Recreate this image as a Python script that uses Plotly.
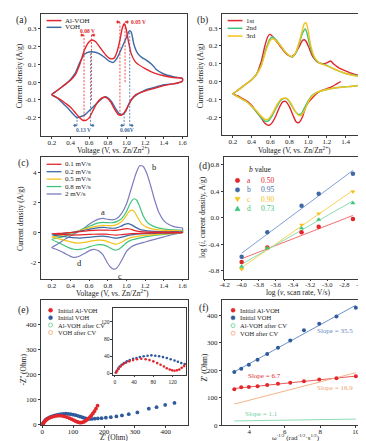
import numpy as np
import plotly.graph_objects as go

W, H = 366, 441
FONT = "Liberation Serif"

# ---------------- (a) Al-VOH vs VOH CV ----------------
a_alvoh_v = [0.20,0.25,0.30,0.35,0.40,0.45,0.50,0.55,0.60,0.63,0.67,0.72,0.78,0.83,0.87,0.90,0.93,0.955,0.975,0.995,1.02,1.05,1.10,1.20,1.30,1.40,1.50,1.60,
             1.60,1.55,1.50,1.40,1.30,1.20,1.10,1.05,1.00,0.97,0.94,0.91,0.87,0.83,0.79,0.76,0.72,0.68,0.64,0.60,0.57,0.54,0.50,0.45,0.40,0.35,0.30,0.25,0.20]
a_alvoh_i = [-0.07,-0.05,-0.03,-0.01,0.01,0.04,0.10,0.18,0.225,0.235,0.225,0.19,0.15,0.13,0.135,0.17,0.235,0.30,0.325,0.30,0.23,0.16,0.11,0.075,0.05,0.035,0.025,0.02,
             0.005,-0.005,-0.01,-0.02,-0.035,-0.05,-0.07,-0.10,-0.15,-0.175,-0.185,-0.18,-0.15,-0.11,-0.088,-0.085,-0.095,-0.12,-0.16,-0.20,-0.212,-0.215,-0.20,-0.17,-0.14,-0.12,-0.10,-0.085,-0.07]
a_voh_v = [0.20,0.25,0.30,0.35,0.40,0.45,0.50,0.55,0.60,0.65,0.70,0.76,0.82,0.86,0.90,0.95,1.00,1.03,1.05,1.08,1.12,1.17,1.22,1.27,1.32,1.40,1.50,1.60,
           1.60,1.55,1.50,1.40,1.30,1.20,1.10,1.05,1.02,0.99,0.96,0.92,0.88,0.84,0.80,0.77,0.73,0.68,0.62,0.56,0.50,0.47,0.43,0.38,0.32,0.26,0.20]
a_voh_i = [-0.07,-0.05,-0.03,-0.01,0.015,0.05,0.11,0.155,0.168,0.168,0.16,0.14,0.115,0.11,0.135,0.19,0.25,0.285,0.28,0.21,0.16,0.135,0.12,0.10,0.07,0.045,0.03,0.02,
           0.005,-0.005,-0.01,-0.015,-0.03,-0.045,-0.075,-0.10,-0.13,-0.165,-0.18,-0.175,-0.145,-0.11,-0.088,-0.082,-0.095,-0.12,-0.15,-0.18,-0.195,-0.20,-0.18,-0.15,-0.12,-0.09,-0.07]

# ---------------- (b) first three cycles ----------------
b_cyc1_v = [1.35,1.30,1.25,1.20,1.15,1.10,1.05,1.00,0.97,0.94,0.91,0.89,0.87,0.84,0.80,0.76,0.73,0.70,0.66,0.62,0.59,0.57,0.54,0.50,0.45,0.40,0.35,0.30,0.25,0.20,
            0.25,0.30,0.35,0.40,0.45,0.50,0.54,0.57,0.59,0.61,0.65,0.70,0.76,0.82,0.86,0.90,0.94,0.96,0.98,1.01,1.05,1.10,1.15,1.20,1.24,1.27,1.32,1.40,1.50,1.60]
b_cyc1_i = [0.0,-0.015,-0.03,-0.04,-0.05,-0.065,-0.09,-0.12,-0.15,-0.20,-0.228,-0.232,-0.225,-0.19,-0.14,-0.112,-0.115,-0.14,-0.19,-0.23,-0.245,-0.245,-0.235,-0.205,-0.17,-0.135,-0.11,-0.095,-0.08,-0.07,
            -0.05,-0.03,-0.01,0.01,0.04,0.11,0.20,0.25,0.265,0.26,0.235,0.20,0.16,0.14,0.155,0.19,0.23,0.235,0.225,0.19,0.14,0.11,0.10,0.105,0.115,0.10,0.08,0.06,0.04,0.025]
b_cyc2_v = [0.20,0.25,0.30,0.35,0.40,0.45,0.50,0.55,0.59,0.62,0.66,0.71,0.76,0.83,0.87,0.91,0.94,0.97,0.99,1.02,1.06,1.10,1.15,1.20,1.30,1.40,1.50,1.60,
            1.60,1.55,1.50,1.40,1.30,1.20,1.10,1.04,1.00,0.96,0.93,0.90,0.86,0.82,0.78,0.75,0.71,0.67,0.62,0.58,0.55,0.51,0.45,0.40,0.35,0.30,0.25,0.20]
b_cyc2_i = [-0.07,-0.05,-0.03,-0.01,0.01,0.04,0.09,0.18,0.235,0.25,0.235,0.20,0.165,0.138,0.16,0.22,0.27,0.295,0.27,0.20,0.14,0.11,0.10,0.09,0.065,0.045,0.035,0.025,
            -0.005,-0.02,-0.025,-0.03,-0.035,-0.045,-0.06,-0.08,-0.11,-0.15,-0.18,-0.185,-0.165,-0.13,-0.10,-0.095,-0.105,-0.14,-0.19,-0.22,-0.225,-0.21,-0.17,-0.14,-0.115,-0.10,-0.085,-0.07]
b_cyc3_v = [0.20,0.25,0.30,0.35,0.40,0.45,0.50,0.55,0.59,0.62,0.66,0.71,0.76,0.83,0.87,0.91,0.94,0.96,0.98,1.00,1.03,1.07,1.11,1.16,1.22,1.30,1.40,1.50,1.60,
            1.60,1.55,1.50,1.40,1.30,1.20,1.10,1.03,0.99,0.96,0.93,0.90,0.86,0.82,0.78,0.75,0.71,0.67,0.62,0.58,0.55,0.51,0.45,0.40,0.35,0.30,0.25,0.20]
b_cyc3_i = [-0.07,-0.05,-0.03,-0.01,0.01,0.04,0.085,0.17,0.225,0.24,0.23,0.20,0.165,0.14,0.165,0.23,0.29,0.325,0.33,0.29,0.20,0.135,0.11,0.095,0.085,0.065,0.045,0.032,0.025,
            -0.01,-0.02,-0.025,-0.03,-0.035,-0.045,-0.06,-0.09,-0.13,-0.165,-0.19,-0.19,-0.165,-0.125,-0.097,-0.093,-0.10,-0.13,-0.18,-0.21,-0.215,-0.20,-0.165,-0.14,-0.115,-0.10,-0.085,-0.07]
b_labels = ["1st", "2nd", "3rd"]

# ---------------- (c) scan rates ----------------
c_labels = ["0.1 mV/s", "0.2 mV/s", "0.5 mV/s", "0.8 mV/s", "2 mV/s"]
c_v01 = [0.20,0.30,0.40,0.50,0.60,0.70,0.80,0.88,0.95,1.00,1.04,1.08,1.15,1.25,1.40,1.60,
         1.60,1.40,1.20,1.05,1.00,0.94,0.89,0.84,0.78,0.70,0.60,0.50,0.42,0.30,0.20]
c_i01 = [-0.08,-0.04,0.01,0.07,0.13,0.17,0.16,0.15,0.22,0.27,0.24,0.15,0.07,0.04,0.03,0.02,
         0.0,-0.01,-0.03,-0.07,-0.10,-0.14,-0.16,-0.14,-0.10,-0.10,-0.12,-0.15,-0.16,-0.12,-0.08]
c_v02 = [0.20,0.30,0.40,0.50,0.60,0.70,0.76,0.82,0.88,0.94,0.98,1.02,1.06,1.10,1.15,1.22,1.30,1.45,1.60,
         1.60,1.40,1.20,1.05,1.00,0.94,0.90,0.86,0.80,0.74,0.66,0.58,0.50,0.42,0.30,0.20]
c_i02 = [-0.15,-0.08,0.0,0.10,0.22,0.33,0.35,0.30,0.30,0.42,0.55,0.60,0.50,0.35,0.20,0.12,0.08,0.06,0.05,
         0.0,-0.03,-0.07,-0.15,-0.22,-0.32,-0.37,-0.35,-0.27,-0.23,-0.26,-0.32,-0.36,-0.33,-0.24,-0.15]
c_v05 = [0.20,0.30,0.40,0.50,0.60,0.70,0.75,0.80,0.85,0.90,0.95,1.00,1.03,1.06,1.09,1.12,1.16,1.22,1.30,1.40,1.60,
         1.60,1.40,1.20,1.05,1.00,0.95,0.91,0.87,0.82,0.76,0.70,0.63,0.55,0.47,0.40,0.30,0.20]
c_i05 = [-0.30,-0.18,-0.04,0.14,0.32,0.45,0.48,0.47,0.47,0.55,0.75,1.15,1.42,1.50,1.35,1.00,0.60,0.35,0.22,0.15,0.10,
         0.0,-0.08,-0.18,-0.32,-0.45,-0.62,-0.74,-0.75,-0.65,-0.52,-0.50,-0.55,-0.65,-0.70,-0.62,-0.45,-0.30]
c_v08 = [0.20,0.30,0.40,0.50,0.60,0.65,0.70,0.75,0.80,0.85,0.90,0.95,1.00,1.04,1.08,1.11,1.14,1.18,1.22,1.28,1.35,1.45,1.60,
         1.60,1.45,1.30,1.15,1.05,1.00,0.95,0.91,0.87,0.82,0.77,0.72,0.67,0.60,0.52,0.45,0.38,0.30,0.20]
c_i08 = [-0.45,-0.30,-0.10,0.15,0.42,0.55,0.65,0.68,0.66,0.66,0.75,0.95,1.40,1.95,2.25,2.15,1.75,1.10,0.70,0.45,0.30,0.20,0.15,
         0.0,-0.08,-0.18,-0.35,-0.50,-0.68,-0.95,-1.12,-1.15,-1.00,-0.85,-0.80,-0.82,-0.95,-1.10,-1.12,-1.00,-0.75,-0.45]
c_v2 = [0.20,0.25,0.30,0.35,0.40,0.45,0.50,0.55,0.60,0.65,0.70,0.75,0.80,0.85,0.90,0.95,1.00,1.05,1.10,1.14,1.18,1.22,1.26,1.30,1.35,1.40,1.45,1.50,1.55,1.60,
        1.60,1.55,1.50,1.45,1.40,1.30,1.20,1.10,1.05,1.00,0.96,0.92,0.89,0.86,0.83,0.79,0.75,0.70,0.66,0.62,0.58,0.54,0.50,0.46,0.43,0.40,0.35,0.30,0.25,0.20]
c_i2 = [-1.0,-0.8,-0.6,-0.4,-0.22,-0.05,0.12,0.32,0.55,0.75,0.90,0.95,0.88,0.85,0.95,1.30,1.90,2.90,3.90,4.45,4.40,3.90,3.10,2.20,1.30,0.80,0.55,0.42,0.35,0.30,
        0.05,-0.05,-0.12,-0.20,-0.28,-0.45,-0.62,-0.80,-0.95,-1.25,-1.70,-2.15,-2.38,-2.42,-2.30,-1.95,-1.50,-1.20,-1.12,-1.15,-1.28,-1.42,-1.55,-1.63,-1.65,-1.58,-1.42,-1.25,-1.12,-1.0]
c_peak_names = ["a", "b", "c", "d"]
c_peak_v = [0.75, 1.29, 0.93, 0.50]
c_peak_i = [1.38, 4.37, -2.85, -2.03]

# ---------------- (d) log i vs log v ----------------
d_logv = [-4.0, -3.7, -3.3, -3.1, -2.7]
d_peak_a = [-0.67, -0.45, -0.22, -0.14, -0.02]
d_peak_b = [-0.59, -0.22, 0.18, 0.36, 0.66]
d_peak_c = [-0.78, -0.47, -0.11, 0.06, 0.39]
d_peak_d = [-0.74, -0.46, -0.16, -0.03, 0.22]
d_names = ["a", "b", "c", "d"]
d_bvalues = ["0.50", "0.95", "0.90", "0.73"]

# ---------------- (e) Nyquist ----------------
e_alvoh_x = [3,5,8,12,17,23,30,38,46,55,64,72,80,88,95,102,108,114,119,124,129,134,139,144,149,154,159,164,169,174,179]
e_alvoh_y = [2,6,11,16,21,25,28,31,33,34,33,31,28,24,20,16,12,9,7,6,7,9,13,17,22,28,35,43,52,62,74]
e_voh_x = [2,4,7,10,14,19,25,31,38,45,52,60,68,76,84,92,100,108,116,124,131,138,145,152,160,170,180,192,206,222,240,258,280,308,345,370,398,428]
e_voh_y = [2,6,11,16,20,24,28,31,34,36,38,40,41,42,41,40,38,36,33,30,27,24,22,21,21,22,23,24,26,28,31,35,40,47,62,68,77,85]
e_alcv_x = [1,2,3,4.5,6,8,10,12,14,16,18,19.5,21,22,23,24,25]
e_alcv_y = [0.5,1.5,2.5,3.5,4.5,5.5,6.2,6.8,7.5,8.5,10,12.5,16,20,25,30,36]
e_vohcv_x = [2,4,7,10,14,18,23,28,34,40,46,52,58,64,71,78,86,95,105,116,128,141,156,173,192,213,236,262]
e_vohcv_y = [1,3,6,9,12,15,18,20,23,26,29,34,40,46,53,61,70,80,91,103,116,130,147,166,187,210,236,265]
e_labels = ["Initial Al-VOH", "Initial VOH", "Al-VOH after CV", "VOH after CV"]

# ---------------- (f) Z' vs w^-1/2 ----------------
f_w = [3.16, 3.55, 3.98, 4.47, 5.01, 5.62, 6.31, 7.08, 7.94, 8.91, 10.0]
f_alvoh = [131, 138, 139, 142, 146, 151, 155, 160, 166, 171, 178]
f_voh = [194, 206, 220, 238, 259, 282, 309, 346, 370, 396, 428]
f_alcv = [16, 16, 16, 17, 17, 18, 18, 19, 20, 21, 23]
f_vohcv = [73, 85, 91, 101, 112, 117, 128, 139, 157, 171, 194]
f_labels = ["Initial Al-VOH", "Initial VOH", "Al-VOH after CV", "VOH after CV"]
f_slope_text = ["6.7", "35.5", "1.1", "16.9"]

# ---------------- colours ----------------
RED = "#e3262b"
BLUE = "#3d6aa3"
GREEN = "#3fc47c"
YELLOW = "#f5c21b"
PURPLE = "#7d7cc0"
ORANGE = "#f5ae80"
LGREEN = "#72d39c"
DBLUE = "#2f5b9c"


def pxy(x, y):
    return x / W, 1 - y / H


def dom(x0, x1, y0, y1):
    return [x0 / W, x1 / W], [1 - y1 / H, 1 - y0 / H]


AX = dict(showline=True, linecolor="#3a3a3a", linewidth=0.8, mirror=True,
          ticks="outside", ticklen=2, tickwidth=0.8, tickcolor="#3a3a3a",
          showgrid=False, zeroline=False,
          tickfont=dict(family=FONT, size=7, color="#222"))


def axis(domain, rng, tv, fmt, anchor, **kw):
    d = dict(AX)
    d.update(domain=domain, range=rng, tickvals=tv,
             ticktext=[fmt.format(v) for v in tv], anchor=anchor)
    d.update(kw)
    return d


fig = go.Figure()


def line(x, y, color, ax, width=1.4):
    fig.add_trace(go.Scatter(x=x, y=y, mode="lines", xaxis="x" + ax, yaxis="y" + ax,
                             line=dict(color=color, width=width, shape="spline", smoothing=0.55),
                             showlegend=False, hoverinfo="skip"))


def pts(x, y, color, ax, symbol="circle", size=4.5, open_=False):
    m = dict(color=color, size=size, symbol=symbol)
    if open_:
        m = dict(color="rgba(0,0,0,0)", size=size, symbol="circle-open",
                 line=dict(color=color, width=0.8))
    fig.add_trace(go.Scatter(x=x, y=y, mode="markers", xaxis="x" + ax, yaxis="y" + ax,
                             marker=m, showlegend=False, hoverinfo="skip"))


# (a)
line(a_voh_v, a_voh_i, BLUE, "")
line(a_alvoh_v, a_alvoh_i, RED, "")
# (b)
line(b_cyc1_v, b_cyc1_i, RED, "2")
line(b_cyc2_v, b_cyc2_i, GREEN, "2")
line(b_cyc3_v, b_cyc3_i, YELLOW, "2")
# (c)
c_cols = [RED, BLUE, YELLOW, GREEN, PURPLE]
for vv, ii, col in zip([c_v2, c_v08, c_v05, c_v02, c_v01], [c_i2, c_i08, c_i05, c_i02, c_i01],
                       [PURPLE, GREEN, YELLOW, BLUE, RED]):
    line(vv, ii, col, "3", width=1.2)
# (d)
d_cols = [RED, BLUE, YELLOW, GREEN]
d_line_cols = ["#f07070", "#7fa0d4", "#f8d45a", "#8edcb2"]
d_syms = ["circle", "circle", "triangle-down", "triangle-up"]
d_series = [d_peak_a, d_peak_b, d_peak_c, d_peak_d]
for ys, lc in zip(d_series, d_line_cols):
    k, b0 = np.polyfit(d_logv, ys, 1)
    xs = [min(d_logv), max(d_logv)]
    fig.add_trace(go.Scatter(x=xs, y=[k * xx + b0 for xx in xs], mode="lines", xaxis="x4", yaxis="y4",
                             line=dict(color=lc, width=1), showlegend=False, hoverinfo="skip"))
for ys, c, s in zip(d_series, d_cols, d_syms):
    pts(d_logv, ys, c, "4", symbol=s, size=4.5)

# (e) main and inset
E_SER = [(e_vohcv_x, e_vohcv_y, ORANGE, True), (e_alcv_x, e_alcv_y, LGREEN, True),
         (e_voh_x, e_voh_y, DBLUE, False), (e_alvoh_x, e_alvoh_y, RED, False)]
for x, y, c, o in E_SER:
    pts(x, y, c, "5", size=3.8, open_=o)
for x, y, c, o in E_SER:
    pts(x, y, c, "6", size=2.6, open_=o)

# (f)
F_SER = [(f_alvoh, RED, False, "#e85a5a"), (f_voh, DBLUE, False, "#6d93cc"),
         (f_alcv, LGREEN, True, "#8edcb2"), (f_vohcv, ORANGE, True, "#f5b48a")]
for ys, c, o, lc in F_SER:
    k, b0 = np.polyfit(f_w, ys, 1)
    xs = [min(f_w), max(f_w)]
    fig.add_trace(go.Scatter(x=xs, y=[k * xx + b0 for xx in xs], mode="lines", xaxis="x7", yaxis="y7",
                             line=dict(color=lc, width=1), showlegend=False, hoverinfo="skip"))
for ys, c, o, lc in F_SER:
    pts(f_w, ys, c, "7", size=4, open_=o)

# ---------------- axes ----------------
volt_ticks = [0.2, 0.4, 0.6, 0.8, 1.0, 1.2, 1.4, 1.6]
xa, ya = dom(29, 177, 6, 129)
xb, yb = dom(212, 361, 6, 128)
xc, yc = dom(29, 178, 150, 273)
xd, yd = dom(214, 362, 150, 273)
xe, ye = dom(29, 178, 295, 421)
xi, yi = dom(102, 176, 303, 370)
xf, yf = dom(212, 362, 295, 421)

small = dict(tickfont=dict(family=FONT, size=5.5, color="#222"), ticklen=1.5)
XS = dict(ticklabelstandoff=-2)

fig.update_layout(
    xaxis=axis(xa, [0.08, 1.65], volt_ticks, "{:.1f}", "y", **XS),
    yaxis=axis(ya, [-0.3, 0.38], [-0.2, -0.1, 0.0, 0.1, 0.2, 0.3], "{:.1f}", "x"),
    xaxis2=axis(xb, [0.08, 1.65], volt_ticks, "{:.1f}", "y2", **XS),
    yaxis2=axis(yb, [-0.3, 0.38], [-0.2, -0.1, 0.0, 0.1, 0.2, 0.3], "{:.1f}", "x2"),
    xaxis3=axis(xc, [0.08, 1.66], volt_ticks, "{:.1f}", "y3", **XS),
    yaxis3=axis(yc, [-3.05, 5.05], [-2, 0, 2, 4], "{:d}", "x3"),
    xaxis4=axis(xd, [-4.21, -2.5], [-4.2, -4.0, -3.8, -3.6, -3.4, -3.2, -3.0, -2.8, -2.6], "{:.1f}", "y4",
                tickfont=dict(family=FONT, size=6.5, color="#222"), **XS),
    yaxis4=axis(yd, [-0.92, 0.92], [-0.8, -0.4, 0.0, 0.4, 0.8], "{:.1f}", "x4"),
    xaxis5=axis(xe, [-5, 472], [0, 100, 200, 300, 400], "{:d}", "y5", **XS),
    yaxis5=axis(ye, [-4, 495], [0, 100, 200, 300, 400], "{:d}", "x5"),
    xaxis6=axis(xi, [-4, 148], [0, 40, 80, 120], "{:d}", "y6", **small),
    yaxis6=axis(yi, [-3, 152], [0, 40, 80, 120], "{:d}", "x6", **small),
    xaxis7=axis(xf, [2.45, 10.8], [4, 6, 8, 10], "{:d}", "y7", **XS),
    yaxis7=axis(yf, [0, 455], [0, 100, 200, 300, 400], "{:d}", "x7"),
)

ann = []
shapes = []


def text(x, y, s, size=8, color="#222", xanchor="center", angle=0, ref=None):
    if ref is None:
        px_, py_ = pxy(x, y)
        ann.append(dict(x=px_, y=py_, xref="paper", yref="paper", text=s, showarrow=False,
                        xanchor=xanchor, yanchor="middle", textangle=angle,
                        font=dict(family=FONT, size=size, color=color)))
    else:
        ann.append(dict(x=x, y=y, xref="x" + ref, yref="y" + ref, text=s, showarrow=False,
                        xanchor=xanchor, yanchor="middle",
                        font=dict(family=FONT, size=size, color=color)))


# panel labels
for lab, x, y in [("(a)", 2, 13), ("(b)", 185, 13), ("(c)", 4, 157), ("(d)", 187, 160), ("(e)", 4, 305), ("(f)", 187, 303)]:
    text(x, y, lab, size=9.5, xanchor="left")

# axis titles
VT = "Voltage (V, vs. Zn/Zn<sup>2+</sup>)"
CD = "Current density (A/g)"
text(103, 143.5, VT, size=7.5)
text(286, 143.5, VT, size=7.5)
text(102, 288, VT, size=7.5)
text(290, 287, "log (<i>v</i>, scan rate, V/s)", size=7.5)
text(103, 433.5, "Z' (Ohm)", size=7.5)
text(287, 433, "ω<sup>-1/2</sup> (rad<sup>-1/2</sup>·s<sup>1/2</sup>)", size=7)
text(7, 68, CD, size=7.5, angle=-90)
text(190, 68, CD, size=7.5, angle=-90)
text(8, 212, CD, size=7.5, angle=-90)
text(192, 211, "log (<i>i</i>, current density, A/g)", size=7.5, angle=-90)
text(12, 365, "-Z'' (Ohm)", size=7.5, angle=-90)
text(195, 363, "Z' (Ohm)", size=7.5, angle=-90)


def leg_line(x0, x1, y, color, width=1.5):
    p0 = pxy(x0, y)
    p1 = pxy(x1, y)
    shapes.append(dict(type="line", xref="paper", yref="paper", x0=p0[0], x1=p1[0], y0=p0[1], y1=p1[1],
                       line=dict(color=color, width=width)))


def leg_marker(x, y, color, kind="circle", r=2.2):
    px_, py_ = pxy(x, y)
    base = dict(xref="paper", yref="paper", xsizemode="pixel", ysizemode="pixel", xanchor=px_, yanchor=py_)
    if kind == "circle":
        shapes.append(dict(type="circle", x0=-r, x1=r, y0=-r, y1=r, fillcolor=color,
                           line=dict(color=color, width=0.5), **base))
    elif kind == "open":
        shapes.append(dict(type="circle", x0=-r, x1=r, y0=-r, y1=r,
                           line=dict(color=color, width=0.9), **base))
    elif kind == "tdown":
        shapes.append(dict(type="path", path="M -2.6 2 L 2.6 2 L 0 -2.6 Z", fillcolor=color,
                           line=dict(color=color, width=0.5), **base))
    elif kind == "tup":
        shapes.append(dict(type="path", path="M -2.6 -2 L 2.6 -2 L 0 2.6 Z", fillcolor=color,
                           line=dict(color=color, width=0.5), **base))


# (a) legend
for lab, col, y in [("Al-VOH", RED, 12.7), ("VOH", BLUE, 19.5)]:
    leg_line(35, 50, y, col)
    text(52, y, lab, size=7, xanchor="left")
# (b) legend
for lab, col, y in zip(b_labels, [RED, GREEN, YELLOW], [12.7, 20.5, 28.3]):
    leg_line(218, 233, y, col)
    text(235, y, lab, size=7, xanchor="left")
# (c) legend
for lab, col, y in zip(c_labels, c_cols, [157.7, 165.2, 172.7, 180.2, 187.7]):
    leg_line(35, 50, y, col, width=1.3)
    text(52, y, lab, size=7, xanchor="left")
# (d) legend
text(251, 163, "<i>b</i> value", size=7.5)
for nm, bv, col, kind, y in zip(d_names, d_bvalues, d_cols, ["circle", "circle", "tdown", "tup"],
                                [174, 183.5, 193, 202.5]):
    leg_marker(228, y, col, kind)
    text(240, y, nm, size=7.5, color=col)
    text(250, y, bv, size=7.5, color=col, xanchor="left")
# (e) legend
for lab, col, kind, y in zip(e_labels, [RED, DBLUE, LGREEN, ORANGE], ["circle", "circle", "open", "open"],
                             [305, 312.5, 320, 327.5]):
    leg_marker(39, y, col, kind, r=2)
    text(44, y, lab, size=6.5, xanchor="left")
# (f) legend
for lab, col, kind, y in zip(f_labels, [RED, DBLUE, LGREEN, ORANGE], ["circle", "circle", "open", "open"],
                             [305, 312.7, 320.5, 328.2]):
    leg_marker(223.5, y, col, kind, r=2)
    text(229, y, lab, size=6.5, xanchor="left")

# (a) peak separation markers (dashed guides + small arrows)
for xv, y0, y1, col in [(0.545, -0.215, 0.262, RED), (0.625, -0.1, 0.262, RED),
                         (0.93, -0.185, 0.335, RED), (0.985, 0.0, 0.335, RED),
                         (0.47, -0.242, -0.19, BLUE), (0.615, -0.242, 0.17, BLUE),
                         (0.975, -0.242, -0.17, BLUE), (1.035, -0.242, 0.29, BLUE)]:
    shapes.append(dict(type="line", xref="x", yref="y", x0=xv, x1=xv, y0=y0, y1=y1,
                       line=dict(color=col, width=0.8, dash="2px,1.5px")))
for (xl, xr, yy, col) in [(0.545, 0.625, 0.262, RED), (0.93, 0.985, 0.335, RED),
                          (0.47, 0.615, -0.242, BLUE), (0.975, 1.035, -0.242, BLUE)]:
    for head, tail, sgn in [(xl, xl - 0.04, 1), (xr, xr + 0.04, -1)]:
        shapes.append(dict(type="line", xref="x", yref="y", x0=tail, x1=head, y0=yy, y1=yy,
                           line=dict(color=col, width=0.8)))
        shapes.append(dict(type="path", xref="x", yref="y", xsizemode="pixel", ysizemode="pixel",
                           xanchor=head, yanchor=yy,
                           path="M 0 0 L {0} 1.4 L {0} -1.4 Z".format(-2.8 * sgn),
                           fillcolor=col, line=dict(color=col, width=0.4)))
text(0.585, 0.287, "<b>0.08 V</b>", size=5.5, color=RED, ref="")
text(1.13, 0.337, "<b>0.05 V</b>", size=5.5, color=RED, ref="")
text(0.54, -0.268, "<b>0.13 V</b>", size=5.5, color=BLUE, ref="")
text(1.005, -0.268, "<b>0.06V</b>", size=5.5, color=BLUE, ref="")

# (c) peak letters
for nm, vv, ii in zip(c_peak_names, c_peak_v, c_peak_i):
    text(vv, ii, nm, size=8.5, ref="3")

# (f) slopes
for s, col, xx, yy in zip(f_slope_text, ["#e0262b", "#5f86bf", "#6fd09a", "#f0a070"],
                          [4.85, 8.82, 4.7, 8.85], [180, 344, 42, 137]):
    text(xx, yy, "Slope = " + s, size=7, color=col, ref="7")

fig.update_layout(
    width=W, height=H, margin=dict(l=0, r=0, t=0, b=0),
    paper_bgcolor="white", plot_bgcolor="white",
    annotations=ann, shapes=shapes, showlegend=False,
    font=dict(family=FONT, size=8, color="#222"),
)

fig.write_html("out.html")
